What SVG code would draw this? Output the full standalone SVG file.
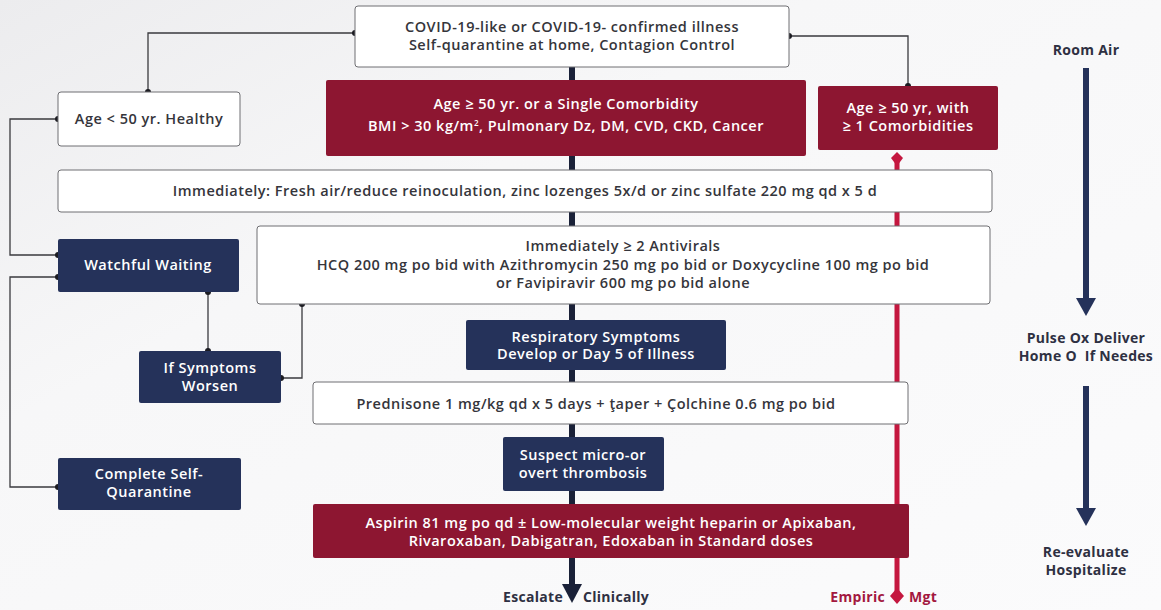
<svg xmlns="http://www.w3.org/2000/svg" width="1161" height="610" viewBox="0 0 1161 610">
<defs>
<linearGradient id="bg" x1="0" y1="0" x2="1" y2="1">
<stop offset="0" stop-color="#ececee"/>
<stop offset="0.35" stop-color="#f7f7f8"/>
<stop offset="1" stop-color="#fbfbfc"/>
</linearGradient>
<style>
.wb{fill:#ffffff;stroke:#6e6e72;stroke-width:1}
.rb{fill:#8d1631}
.nb{fill:#25325a}
.t{font-family:"Open Sans","Liberation Sans",sans-serif;font-size:14.5px;letter-spacing:0.5px;text-anchor:middle;fill:#35353b;font-weight:600}
.tw{font-family:"Open Sans","Liberation Sans",sans-serif;font-size:14.5px;letter-spacing:0.5px;text-anchor:middle;fill:#ffffff;font-weight:600}
.lab{font-family:"Open Sans","Liberation Sans",sans-serif;font-size:14px;letter-spacing:0.3px;font-weight:700;fill:#2e3042;text-anchor:middle;white-space:pre}
.thin{fill:none;stroke:#3a3a3e;stroke-width:1.3}
.dot{fill:#1c1c22}
</style>
</defs>
<rect width="1161" height="610" fill="url(#bg)"/>

<g id="connectors">
<line x1="572" y1="67" x2="572" y2="588" stroke="#1a2138" stroke-width="6"/>
<polygon points="562,584 582,584 572,603" fill="#1a2138"/>
<line x1="897" y1="160" x2="897" y2="592" stroke="#c4173f" stroke-width="5"/>
<polygon points="897,152 903,158 897,166 891,158" fill="#c4173f"/>
<polygon points="897,588 904,596 897,604 890,596" fill="#c4173f"/>
<polyline class="thin" points="355,33 148,33 148,92"/>
<polyline class="thin" points="789,36 908,36 908,86"/>
<polyline class="thin" points="58,119 10,119 10,255 58,255"/>
<polyline class="thin" points="58,277 10,277 10,487 58,487"/>
<polyline class="thin" points="208,292 208,351"/>
<polyline class="thin" points="281,378 302,378 302,304"/>
<circle class="dot" cx="355" cy="33" r="3"/>
<circle class="dot" cx="148" cy="92" r="3"/>
<circle class="dot" cx="789" cy="36" r="3"/>
<circle class="dot" cx="908" cy="86" r="3"/>
<circle class="dot" cx="58" cy="119" r="3"/>
<circle class="dot" cx="58" cy="255" r="3"/>
<circle class="dot" cx="58" cy="277" r="3"/>
<circle class="dot" cx="58" cy="487" r="3"/>
<circle class="dot" cx="208" cy="292" r="3"/>
<circle class="dot" cx="208" cy="351" r="3"/>
<circle class="dot" cx="281" cy="378" r="3"/>
<circle class="dot" cx="302" cy="304" r="3"/>
<line x1="1086" y1="68" x2="1086" y2="302" stroke="#25325a" stroke-width="6"/>
<polygon points="1076,298 1096,298 1086,316" fill="#25325a"/>
<line x1="1086" y1="386" x2="1086" y2="512" stroke="#25325a" stroke-width="6"/>
<polygon points="1076,508 1096,508 1086,526" fill="#25325a"/>
</g>

<g id="n-top">
<rect class="wb" x="355" y="6" width="434" height="61" rx="3"/>
<text class="t" x="572" y="32">COVID-19-like or COVID-19- confirmed illness</text>
<text class="t" x="572" y="50">Self-quarantine at home, Contagion Control</text>
</g>

<g id="n-age-young">
<rect class="wb" x="58" y="92" width="182" height="54" rx="3"/>
<text class="t" x="149" y="124">Age &lt; 50 yr. Healthy</text>
</g>

<g id="n-age-single">
<rect class="rb" x="326" y="80" width="480" height="76" rx="2"/>
<text class="tw" x="566" y="109">Age ≥ 50 yr. or a Single Comorbidity</text>
<text class="tw" x="566" y="131">BMI &gt; 30 kg/m<tspan font-size="8" dy="-5">2</tspan><tspan dy="5">, Pulmonary Dz, DM, CVD, CKD, Cancer</tspan></text>
</g>

<g id="n-age-multi">
<rect class="rb" x="818" y="86" width="180" height="64" rx="2"/>
<text class="tw" x="908" y="113">Age ≥ 50 yr, with</text>
<text class="tw" x="908" y="131">≥ 1 Comorbidities</text>
</g>

<g id="n-immediately">
<rect class="wb" x="58" y="170" width="934" height="42" rx="3"/>
<text class="t" x="525" y="196">Immediately: Fresh air/reduce reinoculation, zinc lozenges 5x/d or zinc sulfate 220 mg qd x 5 d</text>
</g>

<g id="n-antivirals">
<rect class="wb" x="257" y="226" width="733" height="78" rx="3"/>
<text class="t" x="623" y="251">Immediately ≥ 2 Antivirals</text>
<text class="t" x="623" y="270">HCQ 200 mg po bid with Azithromycin 250 mg po bid or Doxycycline 100 mg po bid</text>
<text class="t" x="623" y="288">or Favipiravir 600 mg po bid alone</text>
</g>

<g id="n-watchful">
<rect class="nb" x="58" y="239" width="181" height="53" rx="2"/>
<text class="tw" x="148" y="270">Watchful Waiting</text>
</g>

<g id="n-worsen">
<rect class="nb" x="139" y="351" width="142" height="52" rx="2"/>
<text class="tw" x="210" y="373">If Symptoms</text>
<text class="tw" x="210" y="391">Worsen</text>
</g>

<g id="n-respiratory">
<rect class="nb" x="466" y="320" width="260" height="50" rx="2"/>
<text class="tw" x="596" y="342">Respiratory Symptoms</text>
<text class="tw" x="596" y="359">Develop or Day 5 of Illness</text>
</g>

<g id="n-prednisone">
<rect class="wb" x="313" y="382" width="595" height="42" rx="3"/>
<text class="t" x="596" y="409">Prednisone 1 mg/kg qd x 5 days + ţaper + Çolchine 0.6 mg po bid</text>
</g>

<g id="n-thrombosis">
<rect class="nb" x="503" y="437" width="161" height="54" rx="2"/>
<text class="tw" x="583" y="460">Suspect micro-or</text>
<text class="tw" x="583" y="478">overt thrombosis</text>
</g>

<g id="n-complete">
<rect class="nb" x="58" y="458" width="183" height="52" rx="2"/>
<text class="tw" x="149" y="479">Complete Self-</text>
<text class="tw" x="149" y="497">Quarantine</text>
</g>

<g id="n-aspirin">
<rect class="rb" x="313" y="504" width="596" height="54" rx="2"/>
<text class="tw" x="611" y="528">Aspirin 81 mg po qd ± Low-molecular weight heparin or Apixaban,</text>
<text class="tw" x="611" y="546">Rivaroxaban, Dabigatran, Edoxaban in Standard doses</text>
</g>

<g id="labels">
<text class="lab" x="563" y="602" style="text-anchor:end">Escalate</text>
<text class="lab" x="583" y="602" style="text-anchor:start">Clinically</text>
<text class="lab" x="885" y="602" style="text-anchor:end;fill:#a3183f">Empiric</text>
<text class="lab" x="909" y="602" style="text-anchor:start;fill:#a3183f">Mgt</text>
<text class="lab" x="1086" y="55">Room Air</text>
<text class="lab" x="1086" y="343">Pulse Ox Deliver</text>
<text class="lab" x="1086" y="361">Home O  If Needes</text>
<text class="lab" x="1086" y="557">Re-evaluate</text>
<text class="lab" x="1086" y="575">Hospitalize</text>
</g>
</svg>
